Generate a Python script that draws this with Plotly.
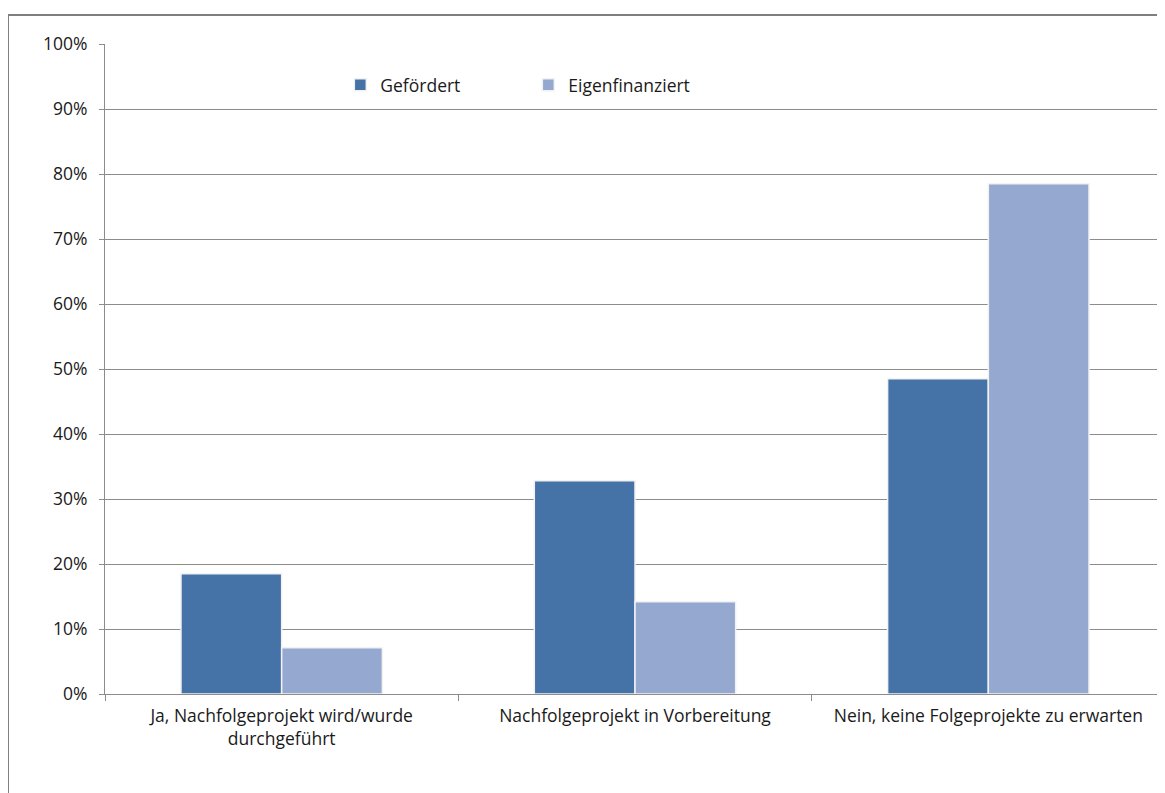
import plotly.graph_objects as go

categories = ["Ja, Nachfolgeprojekt wird/wurde<br>durchgeführt",
              "Nachfolgeprojekt in Vorbereitung",
              "Nein, keine Folgeprojekte zu erwarten"]
gefoerdert = [0.185, 0.328, 0.485]
eigenfinanziert = [0.071, 0.142, 0.785]
y_ticks = [0, 0.1, 0.2, 0.3, 0.4, 0.5, 0.6, 0.7, 0.8, 0.9, 1.0]

FONT = "'Open Sans', sans-serif"
FS = 17.5

fig = go.Figure()
fig.add_trace(go.Bar(name="Gefördert", x=categories, y=gefoerdert,
                     marker=dict(color="#4572A7", line=dict(color="#f2f2f2", width=1.5))))
fig.add_trace(go.Bar(name="Eigenfinanziert", x=categories, y=eigenfinanziert,
                     marker=dict(color="#95A9D0", line=dict(color="#f2f2f2", width=1.5))))

fig.update_layout(
    width=1165, height=793,
    margin=dict(l=97, r=8, t=36, b=107),
    paper_bgcolor="white", plot_bgcolor="white",
    font=dict(family=FONT, size=FS, color="#1a1a1a"),
    barmode="group", bargap=0.43, bargroupgap=0.0,
    showlegend=True,
    legend=dict(orientation="h", x=0.222, y=0.937, xanchor="left", yanchor="middle",
                font=dict(size=FS), entrywidth=143, itemwidth=30, bgcolor="rgba(0,0,0,0)"),
    xaxis=dict(showline=True, linecolor="#8c8c8c", linewidth=1,
               ticks="outside", ticklen=6, tickcolor="#8c8c8c", tickson="boundaries",
               showgrid=False, tickfont=dict(size=FS), ticklabelstandoff=6),
    yaxis=dict(range=[0, 1.0], tickvals=y_ticks, tickformat=".0%",
               showline=True, linecolor="#8c8c8c", linewidth=1,
               ticks="outside", ticklen=5, tickcolor="#8c8c8c",
               showgrid=True, gridcolor="#8c8c8c", gridwidth=1,
               zeroline=False, tickfont=dict(size=FS), ticklabelstandoff=8),
    shapes=[dict(type="rect", xref="paper", yref="paper",
                 x0=(8 - 105) / 1060, x1=1.05, y0=-0.3, y1=(694 - 15) / 650,
                 line=dict(color="#7f7f7f", width=2), fillcolor="rgba(0,0,0,0)", layer="below")],
)

fig.write_html("out.html")
